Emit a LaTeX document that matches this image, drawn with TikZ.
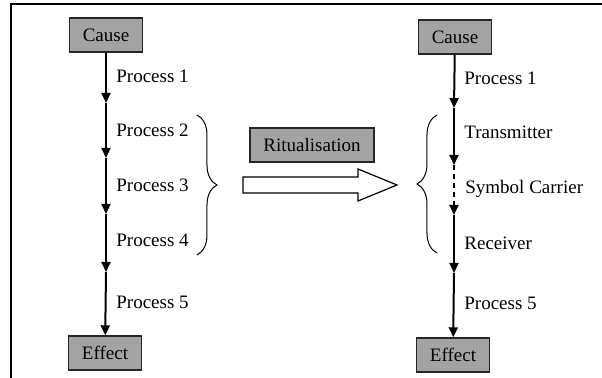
\documentclass[tikz,border=0pt]{standalone}
\usepackage{fontspec}
\setmainfont{Liberation Serif}
\usetikzlibrary{arrows.meta,decorations.pathreplacing}

\tikzset{
  boite/.style={draw=black!85, line width=0.7pt, fill=black!36,
    minimum width=36.5pt, minimum height=17pt, inner sep=0pt},
  fleche/.style={line width=1pt, -{Triangle[width=4.5pt,length=5pt]}},
  etiquette/.style={anchor=west, inner sep=0pt},
  accolade/.style={decorate, decoration={brace, amplitude=10pt}, line width=0.5pt},
}

\begin{document}
\begin{tikzpicture}[x=0.5pt, y=-0.5pt, font=\fontsize{9.5}{11}\selectfont]

  \useasboundingbox (0,0) rectangle (602,378);

  % Cadre (haut et gauche)
  \draw[line width=0.7pt] (11,378) -- (11,4) -- (602,4);

  % Chaine de gauche
  \node[boite] (causeA) at (106,35) {Cause};
  \node[boite] (effetA) at (105,353) {Effect};
  \coordinate (a1) at (106,103);
  \coordinate (a2) at (106,158);
  \coordinate (a3) at (106,214);
  \coordinate (a4) at (106,272);
  \draw[fleche] (causeA) -- (a1);
  \draw[fleche] (a1) -- (a2);
  \draw[fleche] (a2) -- (a3);
  \draw[fleche] (a3) -- (a4);
  \draw[fleche] (a4) -- (effetA);

  \node[etiquette] (p1) at (116,76) {Process 1};
  \node[etiquette] (p2) at (116,130) {Process 2};
  \node[etiquette] (p3) at (116,185) {Process 3};
  \node[etiquette] (p4) at (116,240) {Process 4};
  \node[etiquette] (p5) at (116,302) {Process 5};

  % Accolade gauche
  \draw[accolade] (197,115) -- (197,255);

  % Ritualisation et grosse fleche
  \node[boite, minimum width=62pt] (ritual) at (312,145) {Ritualisation};
  \draw[line width=0.6pt, fill=white] (243,177) -- (358,177) -- (358,169)
    -- (397,185) -- (358,201) -- (358,193) -- (243,193) -- cycle;

  % Chaine de droite
  \node[boite] (causeB) at (455,37) {Cause};
  \node[boite] (effetB) at (453,355) {Effect};
  \coordinate (b1) at (454,108);
  \coordinate (b2) at (454,165);
  \coordinate (b3) at (454,215);
  \coordinate (b4) at (454,273);
  \draw[fleche] (causeB) -- (b1);
  \draw[fleche] (b1) -- (b2);
  \draw[fleche, dash pattern=on 2.5pt off 2pt] (b2) -- (b3);
  \draw[fleche] (b3) -- (b4);
  \draw[fleche] (b4) -- (effetB);

  \node[etiquette] (q1) at (464,78) {Process 1};
  \node[etiquette] (q2) at (464,132) {Transmitter};
  \node[etiquette] (q3) at (465,189) {Symbol Carrier};
  \node[etiquette] (q4) at (464,243) {Receiver};
  \node[etiquette] (q5) at (464,303) {Process 5};

  % Accolade droite
  \draw[accolade] (437,253) -- (437,115);

\end{tikzpicture}
\end{document}
